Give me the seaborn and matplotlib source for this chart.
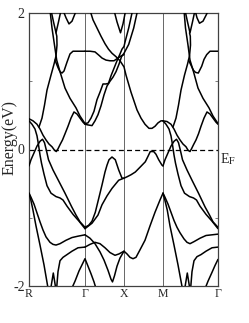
import pandas as pd
import seaborn as sns
import matplotlib
matplotlib.use("Agg")
import matplotlib.pyplot as plt

# high-symmetry points along the k path (path units)
k_labels = ["R", "Γ", "X", "M", "Γ"]
k_ticks = [0, 56, 95, 134, 189]

# ---- R -> Γ ----
rg_p_k = [21, 23, 25.5, 27.7, 31, 36, 41, 47, 51, 56]
rg_p_e = [2.04, 1.78, 1.53, 1.31, 1.14, 0.90, 0.75, 0.61, 0.49, 0.38]
rg_v_k = [22, 24.5, 27, 29.5, 32]
rg_v_e = [2.04, 1.87, 1.71, 1.87, 2.04]
rg_u_k = [34, 37, 40, 43, 46, 47.5]
rg_u_e = [2.04, 1.93, 1.84, 1.88, 1.99, 2.04]
rg_q_k = [10, 13, 15.5, 18, 22, 25, 27, 28, 27.8, 27]
rg_q_e = [0.33, 0.46, 0.65, 0.87, 1.09, 1.25, 1.37, 1.53, 1.66, 1.71]
rg_d_k = [26, 29, 31, 33, 35, 38, 41, 44, 49, 56]
rg_d_e = [1.31, 1.20, 1.14, 1.12, 1.15, 1.28, 1.40, 1.44, 1.44, 1.44]
rg_a1_k = [0, 4, 8, 11, 14, 17, 20, 23, 25.5, 27.3, 29, 31, 33.5, 36, 39, 42, 45, 48, 51, 54, 56]
rg_a1_e = [0.45, 0.42, 0.37, 0.30, 0.21, 0.14, 0.08, 0.04, -0.01, -0.03, 0.01, 0.07, 0.14,
           0.23, 0.34, 0.46, 0.55, 0.52, 0.46, 0.40, 0.37]
rg_a2_k = [0, 3, 6, 8, 9.5, 11, 12.5, 15, 18, 22, 27, 31, 34, 38, 44, 50, 56]
rg_a2_e = [0.42, 0.37, 0.30, 0.20, 0.07, -0.08, -0.20, -0.36, -0.53, -0.64, -0.69, -0.71,
           -0.74, -0.83, -0.95, -1.05, -1.16]
rg_l_k = [0, 2, 5, 8, 11, 13.5, 15.5, 17.5, 19.5, 24, 29.3, 36, 42.7, 47, 51, 56]
rg_l_e = [-0.24, -0.15, -0.05, 0.05, 0.12, 0.15, 0.10, -0.02, -0.15, -0.30, -0.45, -0.64,
          -0.84, -0.96, -1.06, -1.14]
rg_b_k = [0, 2, 5, 8, 11, 14, 17, 21, 24, 27, 31, 37, 43, 49, 56]
rg_b_e = [-0.64, -0.70, -0.80, -0.93, -1.06, -1.18, -1.28, -1.36, -1.39, -1.40, -1.38,
          -1.33, -1.29, -1.27, -1.25]
rg_b2_k = [0, 2, 4, 7, 11, 15, 19]
rg_b2_e = [-0.64, -0.75, -0.89, -1.12, -1.40, -1.69, -2.03]
rg_c_k = [27.5, 29, 31, 34, 38, 43, 49, 56]
rg_c_e = [-2.06, -1.79, -1.63, -1.58, -1.54, -1.49, -1.44, -1.43]
rg_s_k = [21.5, 24.3, 27]
rg_s_e = [-2.06, -1.81, -2.06]

# ---- Γ -> X -> M ----
gx_lam_k = [42, 46, 50, 53, 56, 59, 62, 65, 67.5]
gx_lam_e = [-2.06, -1.93, -1.78, -1.69, -1.60, -1.71, -1.82, -1.94, -2.06]
gx_g1_k = [56, 59, 62, 65, 68, 71, 74, 77, 79.5, 82, 85, 88, 91, 93, 95, 96.3, 99.7, 103, 104]
gx_g1_e = [0.38, 0.39, 0.46, 0.56, 0.73, 0.84, 0.96, 0.96, 0.97, 1.08, 1.19, 1.30, 1.40,
           1.47, 1.51, 1.59, 1.78, 2.00, 2.07]
gx_g2_k = [56, 59, 63, 66, 69, 72, 75, 78, 81, 84, 87, 90, 92.5, 95, 99.7, 104.7, 108, 109]
gx_g2_e = [0.37, 0.36, 0.35, 0.42, 0.51, 0.64, 0.80, 0.93, 1.00, 1.06, 1.14, 1.25, 1.36,
           1.41, 1.54, 1.78, 2.00, 2.07]
gx_t_k = [61, 64, 68, 72, 76, 79.5, 83, 87, 91, 95, 97, 99, 102, 105, 108, 112, 116, 120,
          123, 126, 129, 132, 134]
gx_t_e = [2.04, 1.90, 1.78, 1.66, 1.55, 1.47, 1.41, 1.36, 1.30, 1.21, 1.09, 0.99, 0.84,
          0.71, 0.58, 0.46, 0.37, 0.31, 0.31, 0.34, 0.39, 0.42, 0.42]
gx_d_k = [56, 61, 66, 70, 73, 77, 81, 85, 89, 92, 95]
gx_d_e = [1.44, 1.44, 1.43, 1.38, 1.34, 1.31, 1.30, 1.30, 1.34, 1.37, 1.39]
gx_v_k = [85, 88, 91.5, 94, 96, 96.5]
gx_v_e = [2.04, 1.87, 1.71, 1.84, 1.99, 2.04]
gx_h1_k = [56, 59.7, 63, 66.3, 69.5, 73, 76, 78, 80, 83, 86.3, 89.7, 93, 95, 98, 102, 106.3,
           111, 116.3, 119, 121.3, 124.7, 127, 129.7, 133, 134]
gx_h1_e = [-1.14, -1.11, -1.05, -0.92, -0.73, -0.52, -0.33, -0.23, -0.15, -0.11, -0.15,
           -0.30, -0.42, -0.42, -0.40, -0.37, -0.33, -0.26, -0.18, -0.10, -0.03, -0.03,
           -0.07, -0.15, -0.23, -0.24]
gx_h2_k = [56, 63, 69, 73, 78, 83, 89.7, 95]
gx_h2_e = [-1.16, -1.08, -0.96, -0.81, -0.68, -0.57, -0.45, -0.42]
gx_h3_k = [56, 61, 66, 71, 76, 81, 86, 90, 95, 98, 101, 104, 107, 111, 116, 121, 126, 131, 134]
gx_h3_e = [-1.43, -1.39, -1.36, -1.38, -1.44, -1.51, -1.55, -1.53, -1.49, -1.53, -1.58,
           -1.60, -1.58, -1.47, -1.33, -1.12, -0.92, -0.74, -0.64]
gx_b_k = [56, 61, 66, 71, 75, 79, 82, 83.5, 85.5, 88, 91, 95]
gx_b_e = [-1.25, -1.30, -1.38, -1.50, -1.62, -1.77, -1.90, -1.94, -1.85, -1.71, -1.59, -1.49]

# ---- M -> Γ ----
mg_p_k = [155, 156.5, 159, 161, 164.5, 169, 174, 180, 184, 189]
mg_p_e = [2.04, 1.78, 1.53, 1.31, 1.14, 0.90, 0.75, 0.61, 0.49, 0.38]
mg_v_k = [156, 158.5, 161, 163.5, 166]
mg_v_e = [2.04, 1.87, 1.71, 1.87, 2.04]
mg_u_k = [166, 168, 170.5, 174, 177.5, 179.3]
mg_u_e = [2.04, 1.93, 1.85, 1.88, 1.98, 2.04]
mg_q_k = [144, 147, 149.5, 152, 155.5, 158.5, 160.5, 161.5, 161.3, 160.5]
mg_q_e = [0.33, 0.46, 0.65, 0.87, 1.09, 1.25, 1.37, 1.53, 1.66, 1.71]
mg_d_k = [159.5, 162.5, 164.5, 166.5, 169.3, 172.7, 175, 177.7, 181, 185, 189]
mg_d_e = [1.31, 1.22, 1.16, 1.13, 1.12, 1.22, 1.32, 1.39, 1.44, 1.44, 1.44]
mg_a1_k = [134, 138, 142, 145, 148, 151, 154, 157, 159, 161, 162.5, 164.5, 167, 169.5, 172,
           175, 178, 181, 184, 187, 189]
mg_a1_e = [0.42, 0.41, 0.37, 0.30, 0.21, 0.14, 0.08, 0.04, -0.01, -0.03, 0.01, 0.07, 0.14,
           0.23, 0.34, 0.46, 0.55, 0.52, 0.46, 0.40, 0.37]
mg_a2_k = [134, 137, 140, 142, 143.5, 145, 146.5, 149, 152, 155.5, 160.5, 164.5, 167.5, 171,
           177, 183, 189]
mg_a2_e = [0.42, 0.37, 0.30, 0.20, 0.07, -0.08, -0.20, -0.36, -0.53, -0.64, -0.69, -0.71,
           -0.74, -0.83, -0.95, -1.05, -1.16]
mg_l_k = [134, 136, 139, 142, 145, 147.5, 149.5, 151.5, 153.5, 158, 163, 169.5, 176, 180.5,
          184, 189]
mg_l_e = [-0.24, -0.15, -0.05, 0.05, 0.12, 0.15, 0.10, -0.02, -0.15, -0.30, -0.45, -0.64,
          -0.84, -0.96, -1.06, -1.14]
mg_b_k = [134, 136, 139, 142, 145, 148, 151, 155, 158, 161, 165, 171, 177, 183, 189]
mg_b_e = [-0.64, -0.70, -0.80, -0.92, -1.04, -1.14, -1.22, -1.31, -1.36, -1.38, -1.35,
          -1.30, -1.26, -1.25, -1.24]
mg_b2_k = [134, 136, 138.3, 141, 145, 149, 153.3]
mg_b2_e = [-0.64, -0.75, -0.89, -1.12, -1.40, -1.69, -2.03]
mg_c_k = [161.5, 163, 165, 168, 172, 177, 183, 189]
mg_c_e = [-2.06, -1.79, -1.63, -1.57, -1.54, -1.49, -1.44, -1.43]
mg_s_k = [155.5, 158.3, 161]
mg_s_e = [-2.06, -1.81, -2.06]
mg_lam_k = [175.5, 179, 183, 186, 189]
mg_lam_e = [-2.06, -1.93, -1.80, -1.70, -1.61]

bands = [
    (rg_p_k, rg_p_e), (rg_v_k, rg_v_e), (rg_u_k, rg_u_e), (rg_q_k, rg_q_e),
    (rg_d_k, rg_d_e), (rg_a1_k, rg_a1_e), (rg_a2_k, rg_a2_e), (rg_l_k, rg_l_e),
    (rg_b_k, rg_b_e), (rg_b2_k, rg_b2_e), (rg_c_k, rg_c_e), (rg_s_k, rg_s_e),
    (gx_lam_k, gx_lam_e), (gx_g1_k, gx_g1_e), (gx_g2_k, gx_g2_e), (gx_t_k, gx_t_e),
    (gx_d_k, gx_d_e), (gx_v_k, gx_v_e), (gx_h1_k, gx_h1_e), (gx_h2_k, gx_h2_e),
    (gx_h3_k, gx_h3_e), (gx_b_k, gx_b_e),
    (mg_p_k, mg_p_e), (mg_v_k, mg_v_e), (mg_u_k, mg_u_e), (mg_q_k, mg_q_e),
    (mg_d_k, mg_d_e), (mg_a1_k, mg_a1_e), (mg_a2_k, mg_a2_e), (mg_l_k, mg_l_e),
    (mg_b_k, mg_b_e), (mg_b2_k, mg_b2_e), (mg_c_k, mg_c_e), (mg_s_k, mg_s_e),
    (mg_lam_k, mg_lam_e),
]

rows = []
for i, (ks, es) in enumerate(bands):
    for k, e in zip(ks, es):
        rows.append({"k": k, "E": e, "band": i})
df = pd.DataFrame(rows)

sns.set_theme(style="ticks")
plt.rcParams["font.family"] = ["Liberation Serif", "DejaVu Serif"]
plt.rcParams["mathtext.fontset"] = "stix"

fig = plt.figure(figsize=(2.49, 3.23), dpi=100)
ax = fig.add_axes([29 / 249, 37 / 323, 189 / 249, 273 / 323])

for kx in k_ticks[1:-1]:
    ax.axvline(kx, color="0.3", lw=0.6, zorder=1)
ax.axhline(0, color="black", lw=0.9, ls=(0, (4, 2.5)), zorder=1)

sns.lineplot(data=df, x="k", y="E", units="band", estimator=None, sort=False,
             color="black", lw=1.1, legend=False, ax=ax, zorder=3)

ax.set_xlim(k_ticks[0], k_ticks[-1])
ax.set_ylim(-2, 2)
ax.set_xticks(k_ticks)
ax.set_xticklabels(k_labels, fontsize=8.5)
ax.tick_params(axis="x", length=0, pad=1.5)
ax.set_yticks([-2, 0, 2])
ax.set_yticklabels(["-2", "0", "2"], fontsize=10)
ax.set_yticks([-1, 1], minor=True)
ax.tick_params(axis="y", which="major", direction="in", length=0, pad=3)
ax.tick_params(axis="y", which="minor", direction="in", length=2.5, width=0.6,
               left=True, right=True, color="0.4")
ax.set_xlabel("")
ax.set_ylabel("Energy(eV)", fontsize=11.5)
ax.yaxis.set_label_coords(-0.06, 0.545)
for s in ax.spines.values():
    s.set_linewidth(0.9)
    s.set_color("0.25")

ax.text(1.012, -0.03, r"E$_{\rm F}$", transform=ax.get_yaxis_transform(),
        ha="left", va="top", fontsize=10)

fig.savefig("out.png", dpi=100)
